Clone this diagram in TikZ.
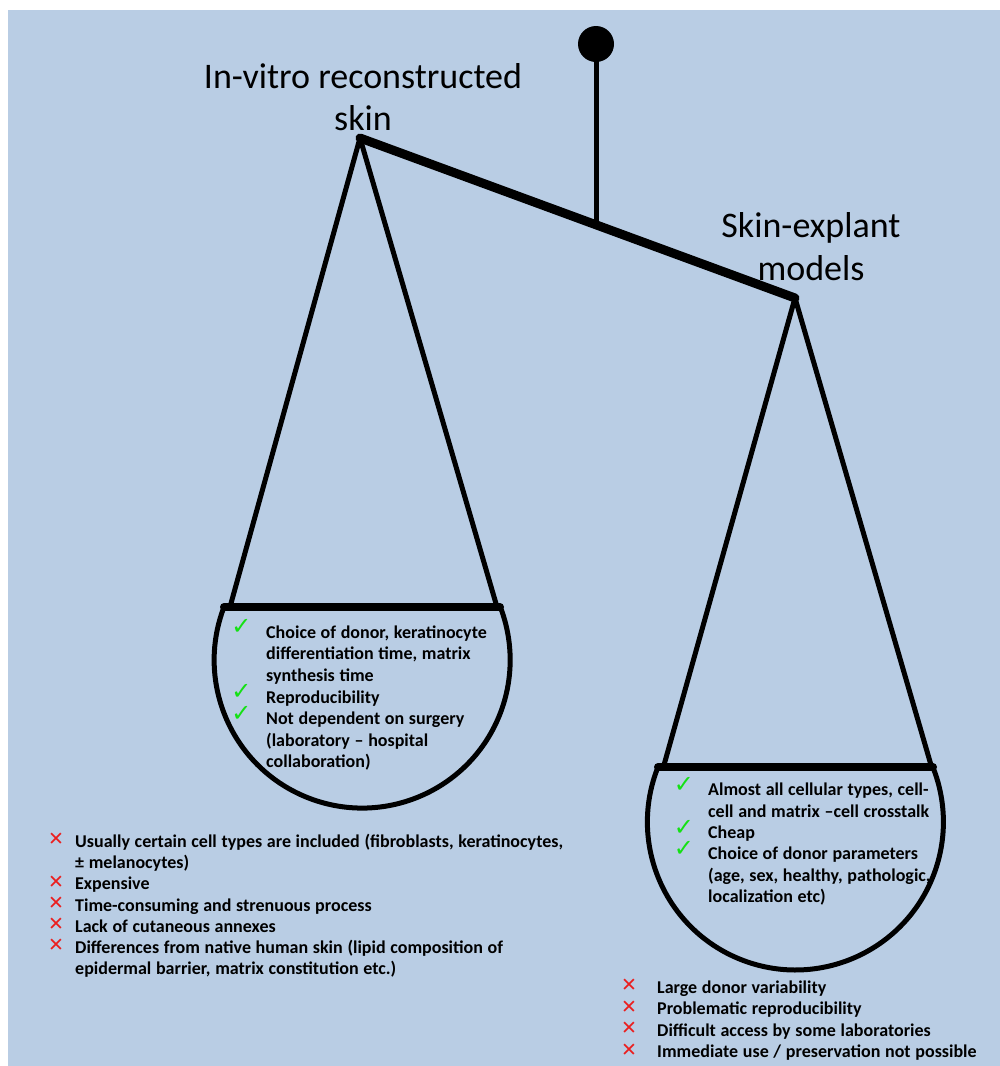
\documentclass[tikz,border=0pt]{standalone}
\usepackage{fontspec}
\setmainfont{Carlito}
\newfontfamily\symfont{DejaVu Sans}
\newcommand\myspacing{\spaceskip=0.26em plus 0.1em\relax}
\definecolor{bgblue}{RGB}{185,205,228}
\definecolor{okgreen}{RGB}{20,225,20}
\definecolor{badred}{RGB}{235,30,30}
\begin{document}
\begin{tikzpicture}[x=1pt,y=-1pt,
  title/.style={font=\fontsize{36}{42}\selectfont, anchor=base, inner sep=0pt},
  item/.style={font=\fontsize{18}{21.6}\selectfont\bfseries\myspacing, anchor=base west, inner sep=0pt},
  okmark/.style={font=\symfont\fontsize{24}{24}\selectfont, text=okgreen, anchor=center, inner sep=0pt},
  badmark/.style={font=\symfont\fontsize{19}{19}\selectfont, text=badred, anchor=center, inner sep=0pt},
  beam/.style={line width=9pt, line cap=round, line join=round},
  rope/.style={line width=5pt, line cap=round, line join=round},
  pantop/.style={line width=8pt, line cap=round},
  panarc/.style={line width=5pt}]
\useasboundingbox (0,0) rectangle (1000,1066);
\fill[white] (0,0) rectangle (1000,1066);
\fill[bgblue] (8,10) rectangle (1000,1066);

% stand
\node[circle, fill=black, minimum size=36pt, inner sep=0pt] (knob) at (596,44) {};
\coordinate (pivot) at (596,225);
\coordinate (lapex) at (360,138);
\coordinate (rapex) at (795,298);
\draw[rope] (knob.center) -- (pivot);
\draw[beam] (lapex) -- (rapex);

% left pan
\coordinate (ltl) at (224,607);
\coordinate (ltr) at (500,607);
\coordinate (lsl) at (230,607);
\coordinate (lsr) at (497,607);
\draw[rope] (lsl) -- (lapex) -- (lsr);
\draw[panarc] (ltl) arc[start angle=159, delta angle=222, radius=148pt];
\draw[pantop] (ltl) -- (ltr);

% right pan
\coordinate (rtl) at (658,767);
\coordinate (rtr) at (933,767);
\coordinate (rsl) at (664,765);
\coordinate (rsr) at (931,765);
\draw[rope] (rsl) -- (rapex) -- (rsr);
\draw[panarc] (rtl) arc[start angle=158.2, delta angle=223.6, radius=148pt];
\draw[pantop] (rtl) -- (rtr);

% titles
\node[title] (t1a) at (363,88) {In-vitro reconstructed};
\node[title] (t1b) at (363,130) {skin};
\node[title] (t2a) at (811,237) {Skin-explant};
\node[title] (t2b) at (811,280) {models};

% left pan pros
\node[item] (lp1) at (266,638) {Choice of donor, keratinocyte};
\node[item] (lp2) at (266,659.5) {differentiation time, matrix};
\node[item] (lp3) at (266,681) {synthesis time};
\node[item] (lp4) at (266,703) {Reproducibility};
\node[item] (lp5) at (266,724.5) {Not dependent on surgery};
\node[item] (lp6) at (266,746) {(laboratory – hospital};
\node[item] (lp7) at (266,767.5) {collaboration)};
\foreach \yy in {638,703,724.5} \node[okmark] at (241.5,\yy-11) {✓};

% left cons
\node[item] (lc1) at (75,847) {Usually certain cell types are included (fibroblasts, keratinocytes,};
\node[item] (lc2) at (75,868.3) {± melanocytes)};
\node[item] (lc3) at (75,889.6) {Expensive};
\node[item] (lc4) at (75,911) {Time-consuming and strenuous process};
\node[item] (lc5) at (75,932) {Lack of cutaneous annexes};
\node[item] (lc6) at (75,953) {Differences from native human skin (lipid composition of};
\node[item] (lc7) at (75,974.5) {epidermal barrier, matrix constitution etc.)};
\foreach \yy in {847,889.6,911,932,953} \node[badmark] at (56,\yy-7.5) {✕};

% right pan pros
\node[item] (rp1) at (708,795.5) {Almost all cellular types, cell-};
\node[item] (rp2) at (708,817) {cell and matrix –cell crosstalk};
\node[item] (rp3) at (708,838) {Cheap};
\node[item] (rp4) at (708,859.5) {Choice of donor parameters};
\node[item] (rp5) at (708,881) {(age, sex, healthy, pathologic,};
\node[item] (rp6) at (708,902) {localization etc)};
\foreach \yy in {795.5,838,859.5} \node[okmark] at (684,\yy-10.5) {✓};

% right cons
\node[item] (rc1) at (657,993) {Large donor variability};
\node[item] (rc2) at (657,1014.5) {Problematic reproducibility};
\node[item] (rc3) at (657,1036) {Difficult access by some laboratories};
\node[item] (rc4) at (657,1057.5) {Immediate use / preservation not possible};
\foreach \yy in {993,1014.5,1036,1057.5} \node[badmark] at (629,\yy-7.5) {✕};
\end{tikzpicture}
\end{document}
